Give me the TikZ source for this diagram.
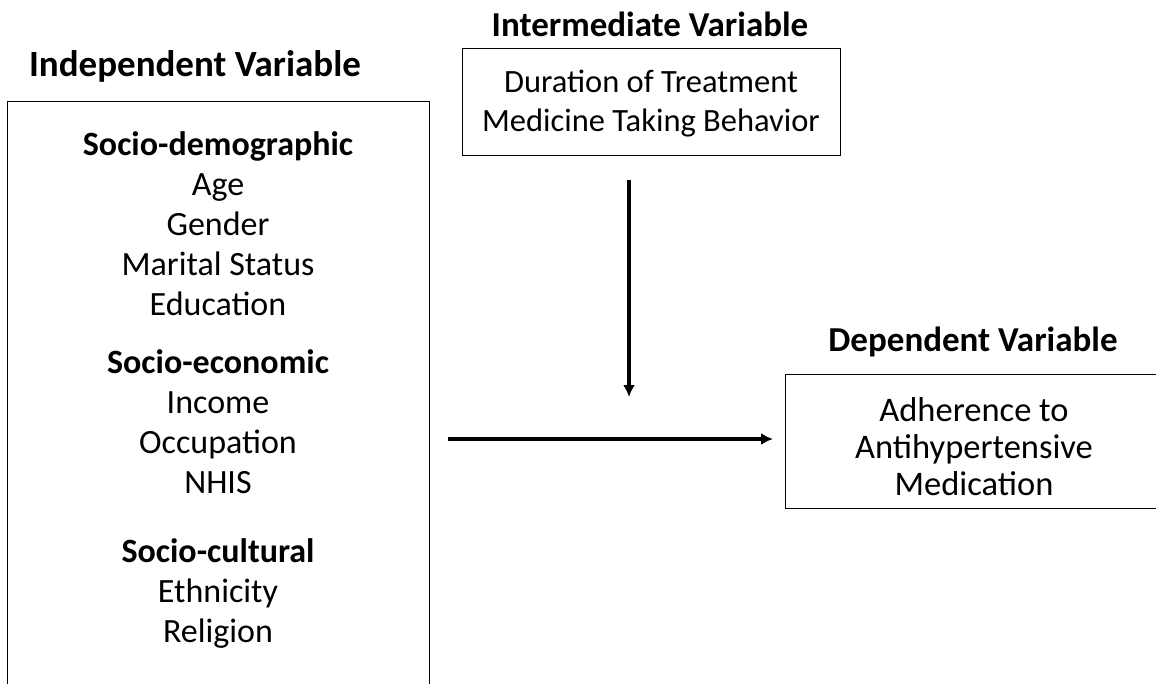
\documentclass[tikz,border=0pt]{standalone}
\usepackage{fontspec}
\setmainfont{Carlito}
\usetikzlibrary{positioning, arrows.meta}
\newcommand{\varFont}[2]{\fontsize{#1}{#2}\selectfont}

\begin{document}
\begin{tikzpicture}[x=1pt, y=-1pt, line cap=butt]
  \tikzset{
    every node/.style={align=center, inner sep=0pt},
    varbox/.style={draw, line width=1.2pt, anchor=north west},
    vartitle/.style={font=\varFont{35}{40}\bfseries},
    varlink/.style={line width=3.2pt, -{Latex[length=12pt, width=12pt]}}
  }
  \useasboundingbox (0,0) rectangle (1156,683);
  \clip (0,0) rectangle (1156,683);
  % boxes
  \node[varbox, minimum width=422, minimum height=600] (indep) at (7,101) {};
  \node[varbox, minimum width=378, minimum height=107] (inter) at (462,48) {};
  \node[varbox, minimum width=378, minimum height=134] (dep) at (785,374) {};
  % titles
  \node[vartitle, font=\varFont{37}{40}\bfseries] (indep-title) at (195,66) {Independent Variable};
  \node[vartitle] (inter-title) at (650,24) {Intermediate Variable};
  \node[vartitle] (dep-title) at (973,342) {Dependent Variable};
  % contents
  \node[font=\varFont{34}{40}] (indep-text) at (218,390) {\textbf{Socio-demographic}\\Age\\Gender\\Marital Status\\Education\\[18pt]
    \textbf{Socio-economic}\\Income\\Occupation\\NHIS\\[29pt]
    \textbf{Socio-cultural}\\Ethnicity\\Religion};
  \node[font=\varFont{32.5}{39}] (inter-text) at (651,104) {Duration of Treatment\\Medicine Taking Behavior};
  \node[font=\varFont{34.5}{37}] (dep-text) at (974,447) {Adherence to\\Antihypertensive\\Medication};
  % arrows
  \coordinate (meet) at (629,397);
  \draw[varlink] (inter.south -| meet) ++(0,24) -- (meet);
  \draw[varlink] ([xshift=18pt]indep.east |- 0,439) -- ([xshift=-12pt]dep.west |- 0,439);
\end{tikzpicture}
\end{document}
